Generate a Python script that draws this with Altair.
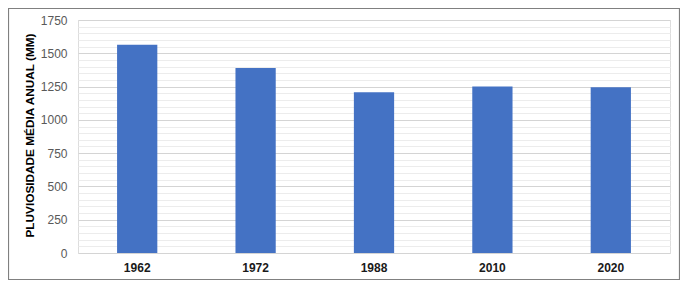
import altair as alt
import pandas as pd

years = ["1962", "1972", "1988", "2010", "2020"]
rain = [1565, 1390, 1207, 1250, 1245]
y_ticks = list(range(0, 1751, 50))

df = pd.DataFrame({"ano": years, "chuva": rain})

bars = alt.Chart(df).mark_bar(color="#4472C4").encode(
    x=alt.X("ano:N", sort=years,
            scale=alt.Scale(paddingInner=0.66, paddingOuter=0.33),
            axis=alt.Axis(title=None, labelAngle=0, labelFont="Liberation Sans",
                          labelFontSize=12, labelFontWeight="bold", labelColor="#1a1a1a",
                          labelPadding=9, ticks=False, domain=False)),
    y=alt.Y("chuva:Q", scale=alt.Scale(domain=[0, 1750], nice=False),
            axis=alt.Axis(title="PLUVIOSIDADE MÉDIA ANUAL (MM)", values=y_ticks,
                          labelExpr="datum.value % 250 === 0 ? datum.label : ''",
                          labelOverlap=False, format="d",
                          labelFont="Liberation Sans", labelFontSize=12, labelColor="#595959",
                          labelPadding=11, ticks=False, domain=False,
                          gridColor=alt.condition("datum.value % 250 === 0",
                                                  alt.value("#d4d4d4"), alt.value("#ececec")),
                          gridWidth=1,
                          titleFont="Liberation Sans", titleFontSize=11.8, titleFontWeight="bold",
                          titleColor="#000000", titleX=-43, titleY=115)),
)

border = alt.Chart(pd.DataFrame({"a": [0]})).mark_rect(
    fill=None, stroke="#808080", strokeWidth=1.2
).encode(
    x=alt.value(-69.5), x2=alt.value(601.5), y=alt.value(-11.5), y2=alt.value(259.5)
)

chart = alt.layer(bars, border).properties(
    width=592, height=233,
    autosize=alt.AutoSizeParams(type="none"),
    padding={"left": 70, "top": 12, "right": 10, "bottom": 27},
).configure_view(stroke=None).configure(background="white")

chart.save("out.html", embed_options={"renderer": "svg", "actions": False})
